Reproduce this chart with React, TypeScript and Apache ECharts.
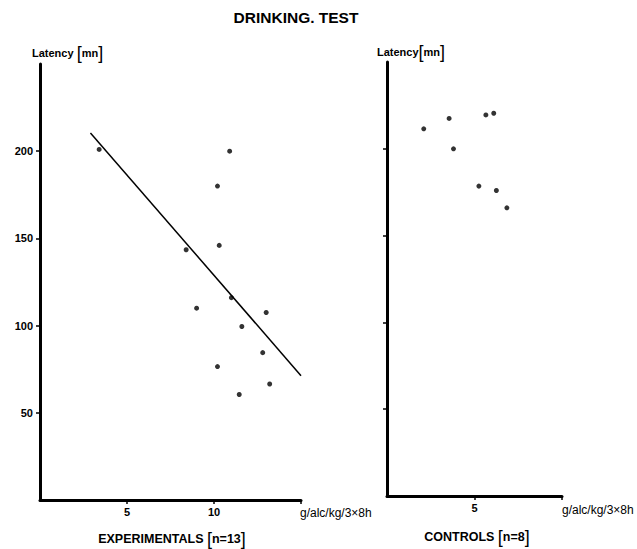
import React, { useEffect, useRef } from "react";
import * as echarts from "echarts";

// Experimentals: dose (g/alc/kg/3x8h) vs latency (mn)
const expDose = [3.4, 10.9, 10.2, 8.4, 10.3, 9.0, 11.0, 13.0, 11.6, 12.8, 10.2, 11.45, 13.2];
const expLatency = [201, 200, 180, 143.5, 146, 110, 116, 107.5, 99.5, 84.5, 76.5, 60.5, 66.5];
// Regression line end points
const regDose = [2.9, 15];
const regLatency = [210.5, 71.3];
// Controls
const ctlDose = [2.1, 3.55, 3.8, 5.65, 6.1, 5.25, 6.25, 6.85];
const ctlLatency = [211.5, 217.5, 200, 219.5, 220.5, 178.5, 176, 166];

const yTickValues = [50, 100, 150, 200];
const leftXLabels = [5, 10];
const rightXLabels = [5];

const FONT = "Liberation Sans";

export default function App() {
  const ref = useRef<HTMLDivElement>(null);
  useEffect(() => {
    if (!ref.current) return;
    const chart = echarts.init(ref.current, undefined, { renderer: "svg" });
    const axisLine = { show: true, onZero: false, lineStyle: { color: "#000", width: 3 } };
    const tickStyle = { lineStyle: { color: "#000", width: 1.5 }, length: 4 };
    const labelStyle = { color: "#000", fontFamily: FONT, fontWeight: "bold" as const, fontSize: 11 };
    const bracket = { fontSize: 18, fontWeight: "normal" as const, fontFamily: FONT, fill: "#000", color: "#000" };

    const text = (t: string, x: number, y: number, align: string, size: number, weight: string, rich?: any) => ({
      type: "text",
      x,
      y,
      style: {
        text: t,
        fill: "#000",
        fontFamily: FONT,
        fontSize: size,
        fontWeight: weight,
        align,
        verticalAlign: "middle",
        textAlign: align,
        textVerticalAlign: "middle",
        rich,
      },
    });

    chart.setOption({
      animation: false,
      backgroundColor: "#fff",
      grid: [
        { left: 40, top: 64, width: 261, height: 436 },
        { left: 387, top: 62, width: 175, height: 434 },
      ],
      xAxis: [
        {
          gridIndex: 0,
          type: "value",
          min: 0,
          max: 15,
          interval: 5,
          axisLine,
          splitLine: { show: false },
          axisTick: { ...tickStyle, customValues: [5, 10, 15] },
          axisLabel: { ...labelStyle, margin: 6, customValues: leftXLabels },
        },
        {
          gridIndex: 1,
          type: "value",
          min: 0,
          max: 10,
          interval: 5,
          axisLine,
          splitLine: { show: false },
          axisTick: { ...tickStyle, customValues: [5, 10] },
          axisLabel: { ...labelStyle, margin: 6, customValues: rightXLabels },
        },
      ],
      yAxis: [
        {
          gridIndex: 0,
          type: "value",
          min: 0,
          max: 250,
          interval: 50,
          axisLine,
          splitLine: { show: false },
          axisTick: { ...tickStyle, customValues: yTickValues },
          axisLabel: { ...labelStyle, margin: 7, customValues: yTickValues },
        },
        {
          gridIndex: 1,
          type: "value",
          min: 0,
          max: 250,
          interval: 50,
          axisLine,
          splitLine: { show: false },
          axisTick: { ...tickStyle, customValues: yTickValues },
          axisLabel: { show: false },
        },
      ],
      series: [
        {
          type: "scatter",
          xAxisIndex: 0,
          yAxisIndex: 0,
          symbolSize: 5,
          itemStyle: { color: "#000" },
          data: expDose.map((d, i) => [d, expLatency[i]]),
        },
        {
          type: "line",
          xAxisIndex: 0,
          yAxisIndex: 0,
          symbol: "none",
          lineStyle: { color: "#000", width: 1.5 },
          data: regDose.map((d, i) => [d, regLatency[i]]),
        },
        {
          type: "scatter",
          xAxisIndex: 1,
          yAxisIndex: 1,
          symbolSize: 5,
          itemStyle: { color: "#000" },
          data: ctlDose.map((d, i) => [d, ctlLatency[i]]),
        },
      ],
      graphic: [
        text("DRINKING. TEST", 296, 17, "center", 15.5, "bold"),
        text("Latency {b|[}mn{b|]}", 32, 53, "left", 11, "bold", { b: bracket }),
        text("Latency{b|[}mn{b|]}", 377, 52, "left", 11, "bold", { b: bracket }),
        text("g/alc/kg/3×8h", 300, 513, "left", 12, "normal"),
        text("g/alc/kg/3×8h", 562, 510, "left", 12, "normal"),
        text("EXPERIMENTALS {b|[}n=13{b|]}", 172, 539, "center", 12.5, "bold", { b: bracket }),
        text("CONTROLS {b|[}n=8{b|]}", 477, 537, "center", 12.5, "bold", { b: bracket }),
      ],
    });
    return () => chart.dispose();
  }, []);
  return (
    <div
      ref={ref}
      style={{ position: "absolute", left: 0, top: 0, width: 637, height: 549, background: "#fff" }}
    />
  );
}
